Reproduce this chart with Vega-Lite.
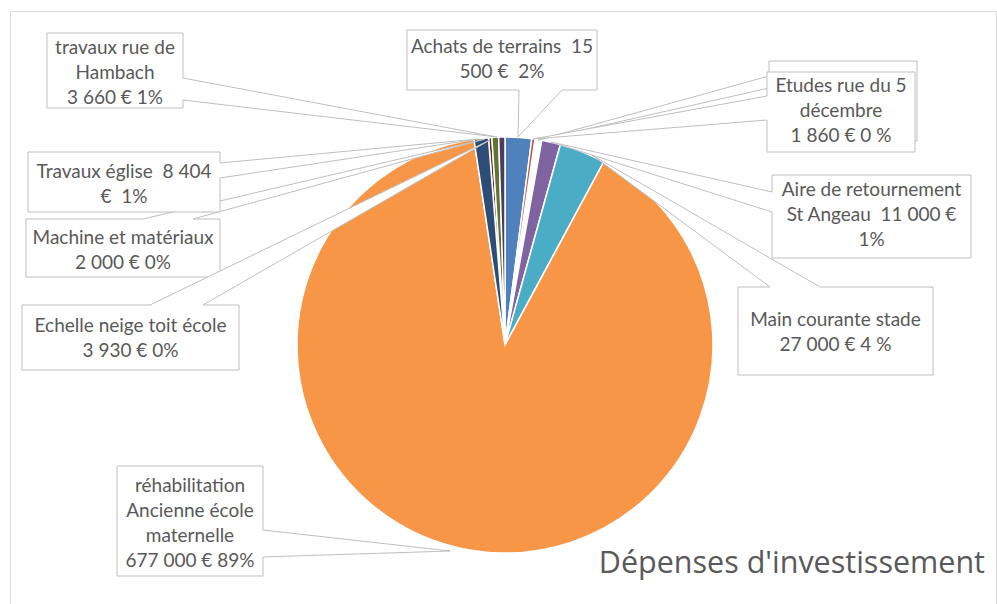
{
  "$schema": "https://vega.github.io/schema/vega-lite/v6.json",
  "width": 986,
  "height": 593,
  "autosize": {"type": "none"},
  "padding": {"left": 10, "top": 11, "right": 1, "bottom": 0},
  "background": "white",
  "config": {"view": {"stroke": "#d9d9d9", "strokeWidth": 1}},
  "title": {
    "text": "Dépenses d'investissement",
    "orient": "bottom",
    "anchor": "end",
    "frame": "group",
    "baseline": "alphabetic",
    "offset": -31,
    "dx": -11,
    "font": "Open Sans",
    "fontSize": 30.5,
    "fontWeight": "normal",
    "color": "#595959"
  },
  "data": {
    "values": [
      {"idx": 1, "cat": "Achats de terrains", "value": 15500, "label": "Achats de terrains \u00a015\n500 € \u00a02%"},
      {"idx": 3, "cat": "(sans étiquette)", "value": 4000, "label": ""},
      {"idx": 2, "cat": "Etudes rue du 5 décembre", "value": 1860, "label": "Etudes rue du 5\ndécembre\n1 860 € 0 %"},
      {"idx": 4, "cat": "Aire de retournement St Angeau", "value": 11000, "label": "Aire de retournement\nSt Angeau \u00a011 000 €\n1%"},
      {"idx": 5, "cat": "Main courante stade", "value": 27000, "label": "Main courante stade\n27 000 € 4 %"},
      {"idx": 6, "cat": "réhabilitation Ancienne école maternelle", "value": 677000, "label": "réhabilitation\nAncienne école\nmaternelle\n677 000 € 89%"},
      {"idx": 8, "cat": "Machine et matériaux", "value": 2000, "label": "Machine et matériaux\n2 000 € 0%"},
      {"idx": 7, "cat": "Travaux église", "value": 8404, "label": "Travaux église \u00a08 404\n€ \u00a01%"},
      {"idx": 9, "cat": "Echelle neige toit école", "value": 3930, "label": "Echelle neige toit école\n3 930 € 0%"},
      {"idx": 10, "cat": "travaux rue de Hambach", "value": 3660, "label": "travaux rue de\nHambach\n3 660 € 1%"}
    ]
  },
  "resolve": {"scale": {"y": "independent"}},
  "layer": [
    {
      "mark": {"type": "arc", "radius": 208, "stroke": "white", "strokeWidth": 1.5, "xOffset": 2, "yOffset": 37.5},
      "encoding": {
        "theta": {"field": "value", "type": "quantitative", "stack": true},
        "order": {"field": "idx", "type": "quantitative"},
        "color": {
          "field": "cat",
          "type": "nominal",
          "legend": null,
          "scale": {
            "domain": ["Achats de terrains", "Etudes rue du 5 décembre", "(sans étiquette)", "Aire de retournement St Angeau", "Main courante stade", "réhabilitation Ancienne école maternelle", "Travaux église", "Machine et matériaux", "Echelle neige toit école", "travaux rue de Hambach"],
            "range": ["#4F81BD", "#C0504D", "#FFFFFF", "#8064A2", "#4BACC6", "#F79646", "#2C4D75", "#772C2A", "#5F7530", "#4D3B62"]
          }
        }
      }
    },
    {
      "mark": {"type": "point", "filled": true, "fill": "white", "stroke": "#bfbfbf", "strokeWidth": 1, "size": 4, "opacity": 1},
      "encoding": {
        "x": {"field": "idx", "type": "quantitative", "axis": null, "scale": {"domain": [1, 2, 3, 4, 5, 6, 7, 8, 9, 10], "range": [492, 831, 833, 861.5, 825.5, 180, 114, 113, 120.5, 105], "nice": false, "zero": false}},
        "y": {"field": "idx", "type": "quantitative", "axis": null, "scale": {"domain": [1, 2, 3, 4, 5, 6, 7, 8, 9, 10], "range": [49, 101, 90, 205.5, 320, 510, 171, 237, 326.5, 59.5], "nice": false, "zero": false}},
        "shape": {
          "field": "cat",
          "type": "nominal",
          "legend": null,
          "scale": {
            "domain": ["Achats de terrains", "Etudes rue du 5 décembre", "(sans étiquette)", "Aire de retournement St Angeau", "Main courante stade", "réhabilitation Ancienne école maternelle", "Travaux église", "Machine et matériaux", "Echelle neige toit école", "travaux rue de Hambach"],
            "range": [
              "M17,30L16,77L60,30H95V-30H-95V30Z",
              "M-74,-16L-308,27L-74,8V40H74V-40H-74Z",
              "M-74,-25L-305,39L-74,-13V40H74V-40H-74Z",
              "M-99.5,-24.5L-320.5,-74.5L-99.5,-4.5V41.5H99.5V-41.5H-99.5Z",
              "M-65.5,-44L-243.5,-176L-15.5,-44H97.5V44H-97.5V-44Z",
              "M73,9L260,30L73,36V55H-73V-55H73Z",
              "M96,-19L354,-43L96,-4V30H-96V-30H96Z",
              "M20,-29L362,-109L70,-29H97V29H-97V-29Z",
              "M19.5,-32.5L359.5,-197.5L72.5,-32.5H108.5V32.5H-108.5V-32.5Z",
              "M68,7.5L382,66.5L68,29.5V37.5H-68V-37.5H68Z"
            ]
          }
        }
      }
    },
    {
      "mark": {"type": "text", "font": "Lato", "fontSize": 19, "lineHeight": 25, "lineBreak": "\n", "fill": "#595959", "align": "center", "baseline": "middle"},
      "encoding": {
        "x": {"field": "idx", "type": "quantitative", "axis": null, "scale": {"domain": [1, 2, 3, 4, 5, 6, 7, 8, 9, 10], "range": [492, 831, 833, 861.5, 825.5, 180, 114, 113, 120.5, 105], "nice": false, "zero": false}},
        "y": {"field": "idx", "type": "quantitative", "axis": null, "scale": {"domain": [1, 2, 3, 4, 5, 6, 7, 8, 9, 10], "range": [36, 75, 80, 179, 309, 475, 161, 227, 315, 37], "nice": false, "zero": false}},
        "text": {"field": "label", "type": "nominal"}
      }
    }
  ]
}
